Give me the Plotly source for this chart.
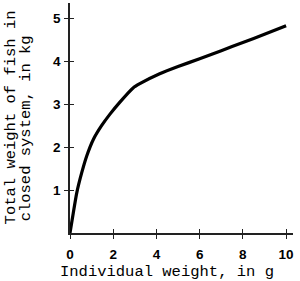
import plotly.graph_objects as go

# Individual weight (g) vs total weight of fish in closed system (kg)
ind_weight = [0, 0.15, 0.31, 0.54, 0.77, 1.08, 1.46, 1.85, 2.31, 2.92, 3.23, 4.15, 5, 6, 7, 8, 9, 10]
total_weight = [0, 0.46, 0.93, 1.40, 1.79, 2.18, 2.50, 2.77, 3.05, 3.38, 3.48, 3.71, 3.88, 4.06, 4.25, 4.44, 4.63, 4.83]

x_ticks = [0, 2, 4, 6, 8, 10]
y_ticks = [1, 2, 3, 4, 5]

x_range = [0, 10.32]
y_range = [0, 5.36]

fig = go.Figure()
fig.add_trace(go.Scatter(
    x=ind_weight, y=total_weight, mode="lines",
    line=dict(color="black", width=3.2, shape="spline", smoothing=0.5),
    hoverinfo="skip", showlegend=False,
))
# invisible trace for overlay axes (inner tick halves)
fig.add_trace(go.Scatter(x=[None], y=[None], xaxis="x2", yaxis="y2",
                         showlegend=False, hoverinfo="skip"))

tickfont = dict(family="Liberation Sans, Arial, sans-serif", size=13.5, color="black", weight="bold")
axis_common = dict(showgrid=False, zeroline=False, linecolor="#222", linewidth=1.5,
                   ticks="outside", ticklen=4, tickwidth=1.3, tickcolor="#222",
                   tickfont=tickfont, fixedrange=True)

fig.update_layout(
    width=300, height=281,
    margin=dict(l=70, r=7, t=3, b=48),
    paper_bgcolor="white", plot_bgcolor="white",
    xaxis=dict(range=x_range, tickvals=x_ticks, ticktext=[str(v) for v in x_ticks],
               showline=True, ticklabelstandoff=4, **axis_common),
    yaxis=dict(range=y_range, tickvals=y_ticks, ticktext=[str(v) for v in y_ticks],
               showline=True, ticklabelstandoff=1, **axis_common),
    xaxis2=dict(range=x_range, tickvals=x_ticks, overlaying="x", showticklabels=False,
                showline=False, showgrid=False, zeroline=False, ticks="inside", ticklen=4,
                tickwidth=1.3, tickcolor="#222", side="bottom", fixedrange=True),
    yaxis2=dict(range=y_range, tickvals=y_ticks, overlaying="y", showticklabels=False,
                showline=False, showgrid=False, zeroline=False, ticks="inside", ticklen=4,
                tickwidth=1.3, tickcolor="#222", side="left", fixedrange=True),
    showlegend=False,
)

title_font = dict(family="Liberation Mono, Courier New, monospace", size=15.5, color="black")
fig.add_annotation(text="Individual weight, in g", xref="paper", yref="paper",
                   x=0.4335, y=-0.168, xanchor="center", yanchor="middle",
                   showarrow=False, font=title_font)
fig.add_annotation(text="Total weight of fish in", xref="paper", yref="paper",
                   x=-0.2628, y=0.0304, xanchor="center", yanchor="bottom",
                   textangle=-90, showarrow=False, font=title_font)
fig.add_annotation(text="closed system, in kg", xref="paper", yref="paper",
                   x=-0.1957, y=0.0435, xanchor="center", yanchor="bottom",
                   textangle=-90, showarrow=False, font=title_font)

fig.write_html("out.html")
